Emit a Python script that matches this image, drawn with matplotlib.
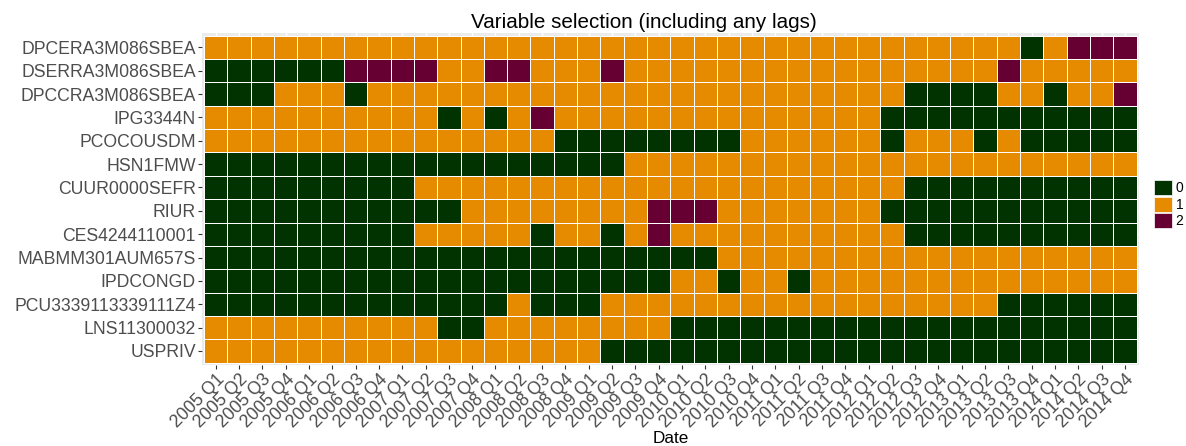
import numpy as np
import matplotlib
matplotlib.use("Agg")
import matplotlib.pyplot as plt
from matplotlib.colors import ListedColormap
from matplotlib.patches import Patch

plt.rcParams['font.family'] = ['Liberation Sans', 'DejaVu Sans']

# quarters 2005 Q1 .. 2014 Q4
quarters = [f"{y} Q{q}" for y in range(2005, 2015) for q in range(1, 5)]

variables = ["DPCERA3M086SBEA", "DSERRA3M086SBEA", "DPCCRA3M086SBEA", "IPG3344N",
             "PCOCOUSDM", "HSN1FMW", "CUUR0000SEFR", "RIUR", "CES4244110001",
             "MABMM301AUM657S", "IPDCONGD", "PCU3339113339111Z4", "LNS11300032", "USPRIV"]

# number of lags selected per quarter (0, 1 or 2), one list per variable
dpcera = [1, 1, 1, 1, 1, 1, 1, 1, 1, 1, 1, 1, 1, 1, 1, 1, 1, 1, 1, 1,
          1, 1, 1, 1, 1, 1, 1, 1, 1, 1, 1, 1, 1, 1, 1, 0, 1, 2, 2, 2]
dserra = [0, 0, 0, 0, 0, 0, 2, 2, 2, 2, 1, 1, 2, 2, 1, 1, 1, 2, 1, 1,
          1, 1, 1, 1, 1, 1, 1, 1, 1, 1, 1, 1, 1, 1, 2, 1, 1, 1, 1, 1]
dpccra = [0, 0, 0, 1, 1, 1, 0, 1, 1, 1, 1, 1, 1, 1, 1, 1, 1, 1, 1, 1,
          1, 1, 1, 1, 1, 1, 1, 1, 1, 1, 0, 0, 0, 0, 1, 1, 0, 1, 1, 2]
ipg3344n = [1, 1, 1, 1, 1, 1, 1, 1, 1, 1, 0, 1, 0, 1, 2, 1, 1, 1, 1, 1,
            1, 1, 1, 1, 1, 1, 1, 1, 1, 0, 0, 0, 0, 0, 0, 0, 0, 0, 0, 0]
pcocousdm = [1, 1, 1, 1, 1, 1, 1, 1, 1, 1, 1, 1, 1, 1, 1, 0, 0, 0, 0, 0,
             0, 0, 0, 1, 1, 1, 1, 1, 1, 0, 1, 1, 1, 0, 1, 0, 0, 0, 0, 0]
hsn1fmw = [0, 0, 0, 0, 0, 0, 0, 0, 0, 0, 0, 0, 0, 0, 0, 0, 0, 0, 1, 1,
           1, 1, 1, 1, 1, 1, 1, 1, 1, 1, 1, 1, 1, 1, 1, 1, 1, 1, 1, 1]
cuur = [0, 0, 0, 0, 0, 0, 0, 0, 0, 1, 1, 1, 1, 1, 1, 1, 1, 1, 1, 1,
        1, 1, 1, 1, 1, 1, 1, 1, 1, 1, 0, 0, 0, 0, 0, 0, 0, 0, 0, 0]
riur = [0, 0, 0, 0, 0, 0, 0, 0, 0, 0, 0, 1, 1, 1, 1, 1, 1, 1, 1, 2,
        2, 2, 1, 1, 1, 1, 1, 1, 1, 0, 0, 0, 0, 0, 0, 0, 0, 0, 0, 0]
ces = [0, 0, 0, 0, 0, 0, 0, 0, 0, 1, 1, 1, 1, 1, 0, 1, 1, 0, 1, 2,
       1, 1, 1, 1, 1, 1, 1, 1, 1, 1, 0, 0, 0, 0, 0, 0, 0, 0, 0, 0]
mabmm = [0, 0, 0, 0, 0, 0, 0, 0, 0, 0, 0, 0, 0, 0, 0, 0, 0, 0, 0, 0,
         0, 0, 1, 1, 1, 1, 1, 1, 1, 1, 1, 1, 1, 1, 1, 1, 1, 1, 1, 1]
ipdcongd = [0, 0, 0, 0, 0, 0, 0, 0, 0, 0, 0, 0, 0, 0, 0, 0, 0, 0, 0, 0,
            1, 1, 0, 1, 1, 0, 1, 1, 1, 1, 1, 1, 1, 1, 1, 1, 1, 1, 1, 1]
pcu = [0, 0, 0, 0, 0, 0, 0, 0, 0, 0, 0, 0, 0, 1, 0, 0, 0, 1, 1, 1,
       1, 1, 1, 1, 1, 1, 1, 1, 1, 1, 1, 1, 1, 1, 0, 0, 0, 0, 0, 0]
lns = [1, 1, 1, 1, 1, 1, 1, 1, 1, 1, 0, 0, 1, 1, 1, 1, 1, 1, 1, 1,
       0, 0, 0, 0, 0, 0, 0, 0, 0, 0, 0, 0, 0, 0, 0, 0, 0, 0, 0, 0]
uspriv = [1, 1, 1, 1, 1, 1, 1, 1, 1, 1, 1, 1, 1, 1, 1, 1, 1, 0, 0, 0,
          0, 0, 0, 0, 0, 0, 0, 0, 0, 0, 0, 0, 0, 0, 0, 0, 0, 0, 0, 0]

selection = np.array([dpcera, dserra, dpccra, ipg3344n, pcocousdm, hsn1fmw, cuur,
                      riur, ces, mabmm, ipdcongd, pcu, lns, uspriv])

levels = ["0", "1", "2"]
colors = ["#003300", "#E68A00", "#660033"]
cmap = ListedColormap(colors)

W, H = 1186, 446
fig = plt.figure(figsize=(W / 100, H / 100), dpi=100)
ax = fig.add_axes([201.7 / W, (H - 365) / H, (1139 - 201.7) / W, (365 - 33.3) / H])
ax.set_facecolor("#EBEBEB")

nx, ny = len(quarters), len(variables)
ax.pcolormesh(np.arange(nx + 1) - 0.5, np.arange(ny + 1) - 0.5, selection,
              cmap=cmap, vmin=-0.5, vmax=2.5, edgecolors="white", linewidth=0.5)

ax.set_xlim(-0.6, nx - 0.4)
ax.set_ylim(ny - 0.4, -0.6)
ax.set_axisbelow(True)
ax.grid(color="white", linewidth=1.0)
for s in ax.spines.values():
    s.set_visible(False)

ax.set_xticks(range(nx))
ax.set_xticklabels(quarters, rotation=45, ha="right", va="top", rotation_mode="anchor")
ax.set_yticks(range(ny))
ax.set_yticklabels(variables)
ax.tick_params(axis="both", length=2.7, width=0.8, color="#333333",
               labelcolor="#4D4D4D", labelsize=12.7, pad=1.5)

fig.text(644 / W, (H - 28) / H, "Variable selection (including any lags)",
         ha="center", va="baseline", fontsize=14.9, color="black")
fig.text(671 / W, 3 / H, "Date", ha="center", va="baseline", fontsize=12.3, color="black")

handles = [Patch(facecolor=c, edgecolor="white", linewidth=0.5, label=l)
           for c, l in zip(colors, levels)]
fig.legend(handles=handles, loc="upper left", bbox_to_anchor=(1154 / W, 1 - 180 / H),
           frameon=False, fontsize=10, handlelength=1.3, handleheight=1.3,
           handletextpad=0.25, labelspacing=0.1, borderpad=0, borderaxespad=0)

fig.savefig("out.png", dpi=100)
